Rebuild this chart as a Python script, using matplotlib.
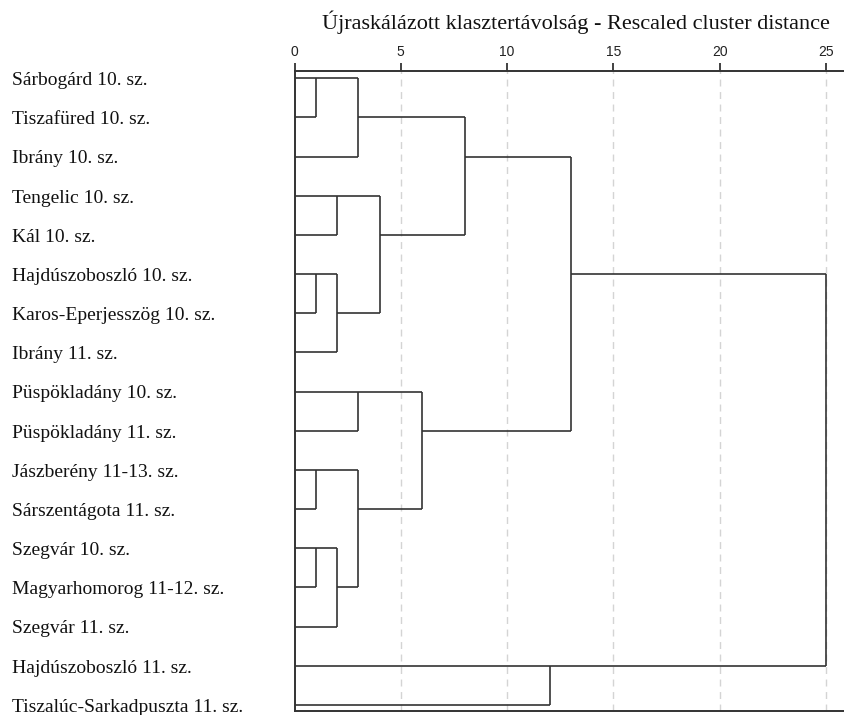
import matplotlib
matplotlib.use("Agg")
import matplotlib.pyplot as plt
import matplotlib.transforms as mtransforms

labels = [
    "Sárbogárd 10. sz.",
    "Tiszafüred 10. sz.",
    "Ibrány 10. sz.",
    "Tengelic 10. sz.",
    "Kál 10. sz.",
    "Hajdúszoboszló 10. sz.",
    "Karos-Eperjesszög 10. sz.",
    "Ibrány 11. sz.",
    "Püspökladány 10. sz.",
    "Püspökladány 11. sz.",
    "Jászberény 11-13. sz.",
    "Sárszentágota 11. sz.",
    "Szegvár 10. sz.",
    "Magyarhomorog 11-12. sz.",
    "Szegvár 11. sz.",
    "Hajdúszoboszló 11. sz.",
    "Tiszalúc-Sarkadpuszta 11. sz.",
]

# merges: node ids 0..16 are leaves, new clusters get 17, 18, ...
merge_a = [0, 17, 3, 5, 20, 19, 18, 8, 10, 12, 26, 25, 24, 23, 15, 30]
merge_b = [1, 2, 4, 6, 7, 21, 22, 9, 11, 13, 14, 27, 28, 29, 16, 31]
merge_dist = [1, 3, 2, 1, 2, 4, 8, 3, 1, 1, 2, 3, 6, 13, 12, 25]

ticks = [0, 5, 10, 15, 20, 25]
title = "Újraskálázott klasztertávolság - Rescaled cluster distance"

LINE = "#333333"

W, H = 844, 715
TOP = 71
fig = plt.figure(figsize=(W / 100, H / 100), dpi=100)
ax = fig.add_axes([294.5 / W, 1 - 711 / H, (W - 294.5) / W, (711 - TOP) / H])

n = len(labels)
ax.set_xlim(0, (W - 294.5) / 21.26)
ax.set_ylim(n - 1 + 0.156, -(78.3 - TOP) / 39.16)

# grid lines
for t in ticks[1:]:
    ax.axvline(t, color="#d4d4d4", lw=1, ls=(0, (5, 4)), zorder=1)

# dendrogram, SPSS style: each node sits at floor of mid row of its children
row = {i: i for i in range(n)}
xpos = {i: 0 for i in range(n)}
for k, (a, b, d) in enumerate(zip(merge_a, merge_b, merge_dist)):
    ra, rb = row[a], row[b]
    ax.plot([xpos[a], d], [ra, ra], color=LINE, lw=1.2, solid_capstyle="butt", zorder=3)
    ax.plot([xpos[b], d], [rb, rb], color=LINE, lw=1.2, solid_capstyle="butt", zorder=3)
    ax.plot([d, d], [ra, rb], color=LINE, lw=1.2, solid_capstyle="butt", zorder=3)
    node = n + k
    row[node] = (ra + rb) // 2
    xpos[node] = d

# frame
ax.spines["right"].set_visible(False)
for side in ["left", "top", "bottom"]:
    ax.spines[side].set_color(LINE)
    ax.spines[side].set_linewidth(1.4)

ax.xaxis.tick_top()
ax.set_xticks(ticks)
ax.set_xticklabels([str(t) for t in ticks], fontsize=10, family="Liberation Sans", color="#222222")
ax.tick_params(axis="x", direction="out", length=6, width=1.3, color=LINE, pad=3)
ax.set_yticks([])

# row labels
trans = mtransforms.blended_transform_factory(fig.transFigure, ax.transData)
for i, lab in enumerate(labels):
    ax.text(12 / W, i + 0.06, lab, transform=trans, ha="left", va="center",
            fontsize=14, family="Liberation Serif", color="#111111")

fig.text(576 / W, 1 - 22 / H, title, ha="center", va="center",
         fontsize=16, family="Liberation Serif", color="#111111")

fig.savefig("out.png", dpi=100)
